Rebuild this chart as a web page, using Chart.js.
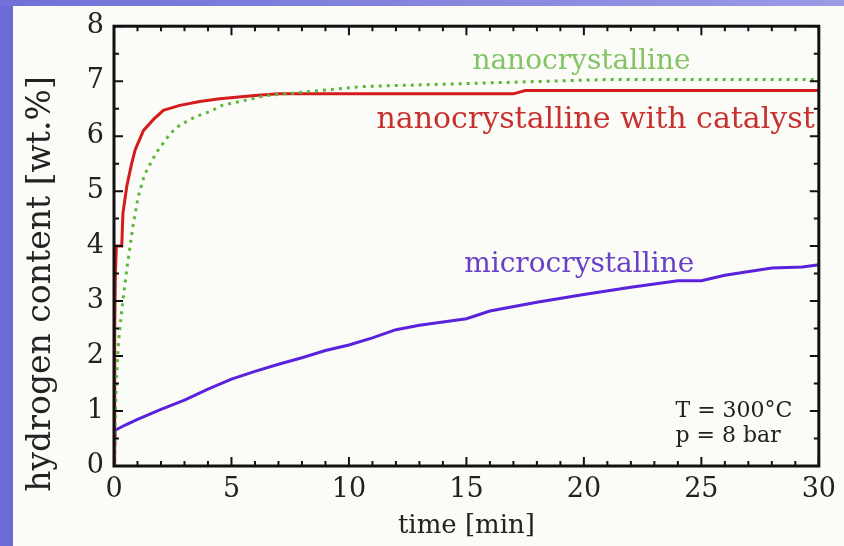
<!DOCTYPE html>
<html>
<head>
<meta charset="utf-8">
<script src="https://cdn.jsdelivr.net/npm/chart.js@4"></script>
<style>
  body { margin: 0; background: #6c6cd6; }
  #top { position: absolute; left: 0; top: 0; width: 844px; height: 6px; background: linear-gradient(to right, #7070d8, #9a9ae6); }
  #bg { position: absolute; left: 13px; top: 6px; width: 831px; height: 540px; background: #fbfcf8; }
  #wrap { position: absolute; left: 0; top: 0; width: 844px; height: 546px; }
</style>
</head>
<body>
<div id="top"></div>
<div id="bg"></div>
<div id="wrap"><canvas id="myChart" width="844" height="546"></canvas></div>
<script>
// time in minutes, hydrogen content in wt.%
var catalystTime = [0, 0.03, 0.06, 0.1, 0.33, 0.38, 0.55, 0.75, 0.9, 1.25, 1.67, 2.1, 2.8, 3.65, 4.5, 6, 7, 17, 17.5, 30];
var catalystVal  = [0, 2.5, 3.5, 4.0, 4.0, 4.6, 5.1, 5.5, 5.75, 6.1, 6.3, 6.47, 6.56, 6.63, 6.68, 6.74, 6.77, 6.77, 6.83, 6.83];

var nanoTime = [0, 0.1, 0.2, 0.35, 0.55, 0.82, 1.03, 1.3, 1.8, 2.4, 2.8, 3.5, 4.1, 4.6, 5.35, 6.5, 8, 10.5, 12, 14.4, 21, 30];
var nanoVal  = [0, 1.6, 2.3, 2.9, 3.6, 4.4, 4.9, 5.3, 5.7, 6.05, 6.2, 6.36, 6.45, 6.56, 6.63, 6.74, 6.8, 6.9, 6.92, 6.95, 7.03, 7.03];

var microTime = [0, 0.05, 0.5, 1, 2, 3, 4, 5, 6, 7, 8, 9, 10, 11, 12, 13, 15, 16, 18, 20, 22, 24, 25, 26, 28, 29.3, 30];
var microVal  = [0, 0.65, 0.75, 0.85, 1.03, 1.2, 1.4, 1.58, 1.72, 1.85, 1.97, 2.1, 2.2, 2.33, 2.48, 2.56, 2.68, 2.82, 2.98, 3.12, 3.25, 3.37, 3.37, 3.47, 3.6, 3.62, 3.66];

var seriesLabels = ['nanocrystalline', 'nanocrystalline with catalyst', 'microcrystalline'];
var xTitle = 'time [min]';
var yTitle = 'hydrogen content [wt.%]';
var conditions = ['T = 300°C', 'p = 8 bar'];

function pairs(xs, ys) {
    return xs.map(function(x, i) { return {x: x, y: ys[i]}; });
}

var serif = "'DejaVu Serif', serif";

// frame, inward ticks, curve labels
var decor = {
    id: 'decor',
    afterDraw: function(chart) {
        var ctx = chart.ctx, a = chart.chartArea;
        var xs = chart.scales.x, ys = chart.scales.y;
        ctx.save();
        ctx.strokeStyle = '#111';
        ctx.lineWidth = 2;
        for (var t = 0; t <= 30; t++) {
            var px = xs.getPixelForValue(t);
            var len = t % 5 === 0 ? 9 : 5;
            ctx.beginPath();
            ctx.moveTo(px, a.bottom); ctx.lineTo(px, a.bottom - len);
            ctx.moveTo(px, a.top); ctx.lineTo(px, a.top + len);
            ctx.stroke();
        }
        for (var v = 0; v <= 8; v += 0.5) {
            var py = ys.getPixelForValue(v);
            var l = v % 1 === 0 ? 9 : 5;
            ctx.beginPath();
            ctx.moveTo(a.left, py); ctx.lineTo(a.left + l, py);
            ctx.moveTo(a.right, py); ctx.lineTo(a.right - l, py);
            ctx.stroke();
        }
        ctx.lineWidth = 3;
        ctx.strokeRect(a.left, a.top, a.right - a.left, a.bottom - a.top);

        ctx.textAlign = 'center';
        ctx.textBaseline = 'middle';
        ctx.font = '28px ' + serif;
        ctx.fillStyle = '#84c464';
        ctx.fillText(seriesLabels[0], xs.getPixelForValue(19.9), ys.getPixelForValue(7.35));
        ctx.fillStyle = '#6a40c8';
        ctx.fillText(seriesLabels[2], xs.getPixelForValue(19.8), ys.getPixelForValue(3.66));
        ctx.font = '30px ' + serif;
        ctx.fillStyle = '#c83030';
        ctx.fillText(seriesLabels[1], xs.getPixelForValue(20.5), ys.getPixelForValue(6.29));

        ctx.textAlign = 'left';
        ctx.fillStyle = '#222';
        ctx.font = '22px ' + serif;
        ctx.fillText(conditions[0], xs.getPixelForValue(23.9), ys.getPixelForValue(1.0));
        ctx.fillText(conditions[1], xs.getPixelForValue(23.9), ys.getPixelForValue(0.54));

        ctx.translate(50, 284);
        ctx.rotate(-Math.PI / 2);
        ctx.textAlign = 'center';
        ctx.textBaseline = 'alphabetic';
        ctx.font = '33px ' + serif;
        ctx.fillStyle = '#222';
        ctx.fillText(yTitle, 0, 0);
        ctx.restore();
    }
};

var ctx = document.getElementById('myChart').getContext('2d');
var myChart = new Chart(ctx, {
    type: 'line',
    data: {
        datasets: [{
            label: seriesLabels[0],
            data: pairs(nanoTime, nanoVal),
            borderColor: '#5cb83a',
            borderWidth: 3,
            borderDash: [3, 5],
            pointRadius: 0,
            tension: 0
        }, {
            label: seriesLabels[1],
            data: pairs(catalystTime, catalystVal),
            borderColor: '#d41c1c',
            borderWidth: 3,
            pointRadius: 0,
            tension: 0
        }, {
            label: seriesLabels[2],
            data: pairs(microTime, microVal),
            borderColor: '#5a22dc',
            borderWidth: 3,
            pointRadius: 0,
            tension: 0
        }]
    },
    options: {
        responsive: false,
        animation: false,
        layout: { padding: { left: 0, right: 24, top: 22, bottom: 0 } },
        plugins: {
            legend: { display: false },
            tooltip: { enabled: false }
        },
        scales: {
            x: {
                type: 'linear',
                min: 0,
                max: 30,
                afterFit: function(s) { s.height = 80; },
                grid: { display: false, drawTicks: false },
                border: { display: false },
                ticks: { stepSize: 5, padding: 8, color: '#222', font: { family: serif, size: 27 } },
                title: { display: true, text: xTitle, color: '#222', padding: { top: 0, bottom: 4 }, font: { family: serif, size: 26 } }
            },
            y: {
                min: 0,
                max: 8,
                afterFit: function(s) { s.width = 114; },
                grid: { display: false, drawTicks: false },
                border: { display: false },
                ticks: { stepSize: 1, padding: 10, color: '#222', font: { family: serif, size: 27 } }
            }
        }
    },
    plugins: [decor]
});
</script>
</body>
</html>
